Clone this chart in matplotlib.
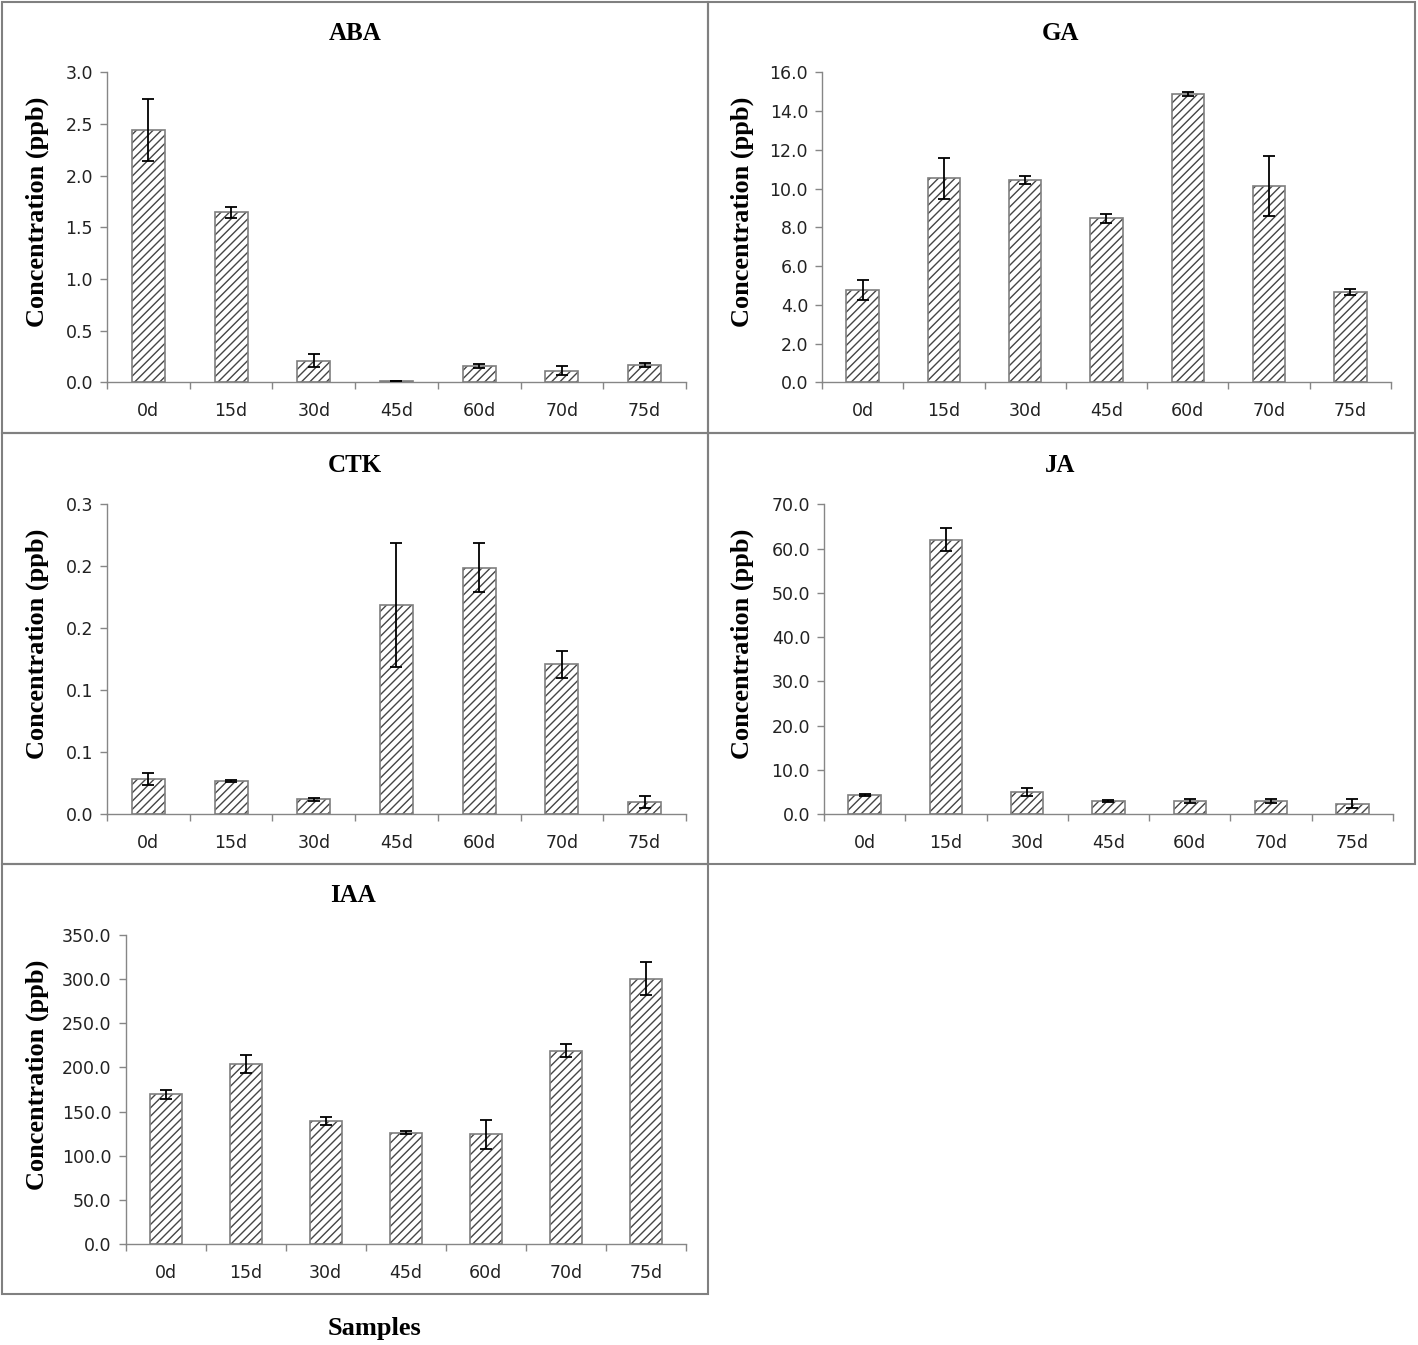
import numpy as np
import matplotlib
matplotlib.use('Agg')
import matplotlib.pyplot as plt
from matplotlib.patches import Rectangle
from matplotlib.ticker import FixedLocator, FixedFormatter

days = ['0d', '15d', '30d', '45d', '60d', '70d', '75d']

aba_mean = [2.44, 1.645, 0.21, 0.013, 0.155, 0.113, 0.168]
aba_err = [0.30, 0.055, 0.06, 0.003, 0.02, 0.045, 0.02]

ga_mean = [4.77, 10.53, 10.44, 8.46, 14.90, 10.13, 4.68]
ga_err = [0.53, 1.05, 0.22, 0.24, 0.10, 1.53, 0.15]

ctk_mean = [0.0285, 0.027, 0.012, 0.169, 0.199, 0.121, 0.010]
ctk_err = [0.005, 0.001, 0.001, 0.050, 0.020, 0.011, 0.005]
ctk_ticklabels = ['0.0', '0.1', '0.1', '0.2', '0.2', '0.3']

ja_mean = [4.37, 62.0, 5.04, 3.0, 3.0, 3.0, 2.4]
ja_err = [0.15, 2.6, 0.8, 0.2, 0.5, 0.4, 1.0]

iaa_mean = [169.5, 204.2, 139.4, 126.2, 124.3, 218.9, 300.3]
iaa_err = [5.0, 10.0, 4.0, 2.0, 16.5, 7.0, 18.5]

W, H = 1418, 1345
plt.rcParams['hatch.linewidth'] = 1.0
fig = plt.figure(figsize=(W / 100, H / 100), dpi=100)

serif = ['Liberation Serif', 'DejaVu Serif']
axcol = '#868686'


def px_axes(left, right, top, bottom):
    return fig.add_axes([left / W, 1 - bottom / H, (right - left) / W, (bottom - top) / H])


def panel(box, title, title_xy, ylab_xy, mean, err, ymax, step, labels=None):
    ax = px_axes(*box)
    x = np.arange(len(days))
    ax.bar(x, mean, width=0.4, color='white', edgecolor='#454545', hatch='////', linewidth=0, zorder=2)
    ax.bar(x, mean, width=0.4, fill=False, edgecolor='#7f7f7f', linewidth=1.2, zorder=3)
    ax.errorbar(x, mean, yerr=err, fmt='none', ecolor='black', elinewidth=1.3,
                capsize=4.5, capthick=1.3, zorder=4)
    ax.set_xlim(-0.5, len(days) - 0.5)
    ax.set_ylim(0, ymax)
    yt = np.arange(0, ymax + step / 2, step)
    ax.set_yticks(yt)
    if labels is None:
        ax.set_yticklabels(['%.1f' % v for v in yt])
    else:
        ax.set_yticklabels(labels)
    ax.xaxis.set_major_locator(FixedLocator(np.arange(-0.5, len(days), 1.0)))
    ax.xaxis.set_major_formatter(FixedFormatter([''] * (len(days) + 1)))
    ax.xaxis.set_minor_locator(FixedLocator(x))
    ax.xaxis.set_minor_formatter(FixedFormatter(days))
    ax.tick_params(axis='x', which='minor', length=0, pad=14, labelsize=12.5, labelcolor='#222222')
    ax.tick_params(axis='x', which='major', length=5, width=1, color=axcol, direction='out')
    ax.tick_params(axis='y', length=5, width=1, color=axcol, pad=5, labelsize=12.5, labelcolor='#222222')
    for s in ['top', 'right']:
        ax.spines[s].set_visible(False)
    for s in ['left', 'bottom']:
        ax.spines[s].set_color(axcol)
        ax.spines[s].set_linewidth(1.0)
    fig.text(title_xy[0] / W, 1 - title_xy[1] / H, title, family=serif, weight='bold',
             fontsize=18, ha='center', va='center')
    fig.text(ylab_xy[0] / W, 1 - ylab_xy[1] / H, 'Concentration (ppb)', family=serif,
             weight='bold', fontsize=19, rotation=90, ha='center', va='center')
    return ax


panel((107, 686, 72.3, 382.3), 'ABA', (355, 34), (37, 212), aba_mean, aba_err, 3.0, 0.5)
panel((822, 1391, 72.3, 382.3), 'GA', (1060, 34), (742, 212), ga_mean, ga_err, 16.0, 2.0)
panel((107, 686, 504.3, 814.3), 'CTK', (355, 466), (37, 644), ctk_mean, ctk_err, 0.25, 0.05,
      labels=ctk_ticklabels)
panel((824, 1393, 504.3, 814.3), 'JA', (1060, 466), (742, 644), ja_mean, ja_err, 70.0, 10.0)
panel((125.5, 686, 934.7, 1244.3), 'IAA', (353, 896), (37, 1075), iaa_mean, iaa_err, 350.0, 50.0)

# panel frames
for (x0, y0, x1, y1) in [(2, 2, 708, 433), (708, 2, 1415, 433), (2, 433, 708, 864),
                         (708, 433, 1415, 864), (2, 864, 708, 1294)]:
    fig.add_artist(Rectangle((x0 / W, 1 - y1 / H), (x1 - x0) / W, (y1 - y0) / H,
                             transform=fig.transFigure, fill=False, edgecolor='#808080', linewidth=1.5))

fig.text(375 / W, 1 - 1328 / H, 'Samples', family=serif, weight='bold', fontsize=19,
         ha='center', va='center')

fig.savefig('out.png', dpi=100, facecolor='white')
